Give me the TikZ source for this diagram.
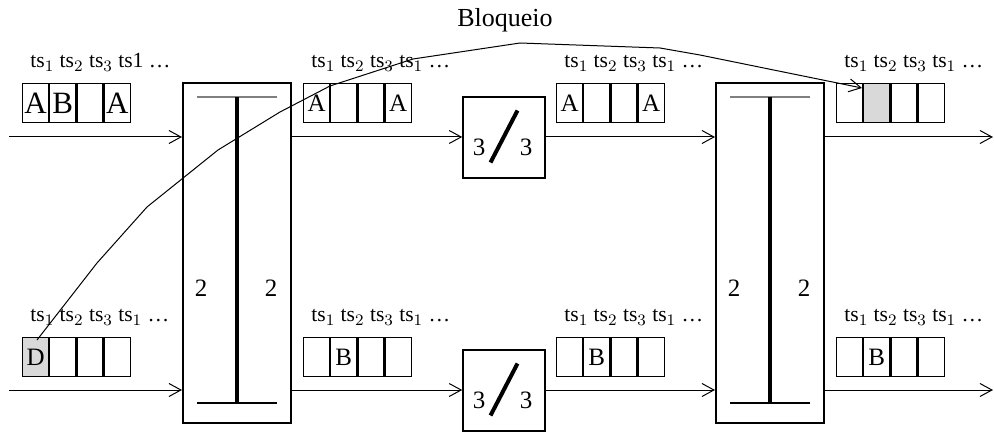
\documentclass[tikz,border=0pt]{standalone}
\usepackage{fontspec}
\setmainfont{Liberation Serif}
\usetikzlibrary{arrows.meta}
\usetikzlibrary{positioning}
\newcommand{\tsseq}{ts$_1$ ts$_2$ ts$_3$ ts$_1$ \ldots}
\newcommand{\slotrow}[6]{%
\node[slot,c1,anchor=north west] (#1-1) at (#2) {#3};
\node[slot,c2,right=0pt of #1-1] (#1-2) {#4};
\node[slot,c3,right=0pt of #1-2] (#1-3) {#5};
\node[slot,c4,right=0pt of #1-3] (#1-4) {#6};
}

\begin{document}
\begin{tikzpicture}[x=0.5pt,y=-0.5pt,
  slot/.style={draw,line width=0.6pt,minimum width=13pt,minimum height=19.4pt,
    inner sep=0pt,font=\fontsize{12.5}{14}\selectfont},
  c1/.style={},c2/.style={},c3/.style={},c4/.style={},
  busy/.style={fill=black!15},
  tslbl/.style={anchor=base west,inner sep=0pt,xshift=4pt,yshift=7.6pt,
    font=\fontsize{10.8}{12}\selectfont},
  xbox/.style={draw,line width=1pt,minimum width=54pt,minimum height=170pt},
  tbox/.style={draw,line width=0.8pt,minimum width=41pt,minimum height=40.5pt},
  num/.style={font=\fontsize{12.5}{14}\selectfont,inner sep=0pt},
  flow/.style={line width=0.5pt,-{Straight Barb[length=6pt,width=6.5pt]}}]
\useasboundingbox (0,0) rectangle (994,432);

\node[xbox] (sw1) at (237,253) {};
\node[xbox] (sw2) at (770,253) {};
\foreach \s in {sw1,sw2} {
  \draw[gray,line width=0.6pt] ([shift={(-40,-156)}]\s.center) -- ([shift={(40,-156)}]\s.center);
  \draw[line width=0.6pt] ([shift={(-40,150)}]\s.center) -- ([shift={(40,150)}]\s.center);
  \draw[line width=2pt] ([shift={(0,-156)}]\s.center) -- ([shift={(0,150)}]\s.center);
  \node[num] (\s-l) at ([shift={(-36,35)}]\s.center) {2};
  \node[num] (\s-r) at ([shift={(34,35)}]\s.center) {2};
}

\node[tbox] (tsi1) at (504,137.5) {};
\node[tbox] (tsi2) at (504,390.5) {};
\foreach \t in {tsi1,tsi2} {
  \draw[line width=2pt] ([shift={(-13.5,25)}]\t.center) -- ([shift={(13.5,-27)}]\t.center);
  \node[num] (\t-l) at ([shift={(-25,10)}]\t.center) {3};
  \node[num] (\t-r) at ([shift={(22,10)}]\t.center) {3};
}

\begin{scope}[slot/.append style={font=\fontsize{15.5}{17}\selectfont}]
\slotrow{b1}{22,83}{A}{B}{}{A}
\end{scope}
\begin{scope}[c1/.style={busy}]
\slotrow{b2}{22,337}{D}{}{}{}
\end{scope}
\slotrow{b3}{303,83}{A}{}{}{A}
\slotrow{b4}{303,337}{}{B}{}{}
\slotrow{b5}{556,83}{A}{}{}{A}
\slotrow{b6}{556,337}{}{B}{}{}
\begin{scope}[c2/.style={busy}]
\slotrow{b7}{836,83}{}{}{}{}
\end{scope}
\slotrow{b8}{836,337}{}{B}{}{}

\node[tslbl] (l1) at (b1-1.north west) {ts$_1$ ts$_2$ ts$_3$ ts1 \ldots};
\foreach \b in {2,...,8}
  \node[tslbl] (l\b) at (b\b-1.north west) {\tsseq};

\coordinate (in1) at (9,137);
\coordinate (in2) at (9,390);
\coordinate (out1) at (993,137);
\coordinate (out2) at (993,390);
\draw[flow] (in1) -- (in1 -| sw1.west);
\draw[flow] (in2) -- (in2 -| sw1.west);
\draw[flow] (in1 -| sw1.east) -- (in1 -| tsi1.west);
\draw[flow] (in2 -| sw1.east) -- (in2 -| tsi2.west);
\draw[flow] (in1 -| tsi1.east) -- (in1 -| sw2.west);
\draw[flow] (in2 -| tsi2.east) -- (in2 -| sw2.west);
\draw[flow] (in1 -| sw2.east) -- (out1);
\draw[flow] (in2 -| sw2.east) -- (out2);

\node[anchor=base,inner sep=0pt,font=\fontsize{13}{15}\selectfont] (blk) at (505,27) {Bloqueio};
\coordinate (blkA) at (37,340);
\coordinate (blkB) at (862,88);
\draw[flow] (blkA) -- (97,263) -- (147,207) -- (218,150) -- (280,112) -- (330,86)
  -- (413,59) -- (520,43) -- (660,48) -- (700,55) -- (blkB);
\end{tikzpicture}
\end{document}
